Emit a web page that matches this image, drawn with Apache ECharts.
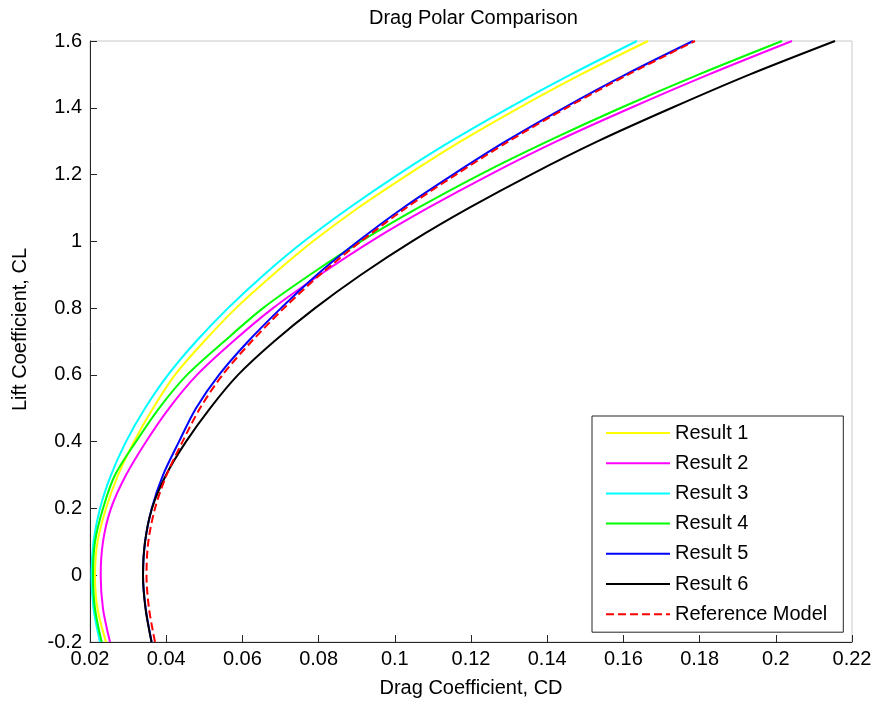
<!DOCTYPE html>
<html>
<head>
<meta charset="utf-8">
<script src="https://cdn.jsdelivr.net/npm/echarts@6/dist/echarts.min.js"></script>
<style>
html,body{margin:0;padding:0;background:#fff;}
#chart{width:876px;height:702px;}
</style>
</head>
<body>
<div id="chart"></div>
<script>
// Lift coefficient samples (y values)
const CL = [-0.2,-0.1,0,0.1,0.2,0.3,0.4,0.5,0.6,0.7,0.8,0.9,1.0,1.1,1.2,1.3,1.4,1.5,1.6];
// Drag coefficient read for each CL sample
const result1 = [0.0242,0.02197,0.02131,0.02197,0.0242,0.02735,0.03155,0.03654,0.04231,0.04992,0.05832,0.06803,0.07853,0.09034,0.10347,0.11738,0.1326,0.14887,0.16646];
const result2 = [0.02525,0.02341,0.02281,0.02341,0.02551,0.02945,0.0347,0.04074,0.04808,0.05753,0.06803,0.08037,0.09375,0.10871,0.12499,0.14257,0.162,0.18247,0.20425];
const result3 = [0.02262,0.02092,0.02039,0.02092,0.02262,0.02551,0.02945,0.03444,0.04047,0.04782,0.05622,0.06567,0.07617,0.08798,0.10084,0.11475,0.12997,0.14625,0.16357];
const result4 = [0.02307,0.02131,0.02079,0.02131,0.02341,0.02656,0.03207,0.03811,0.04546,0.05517,0.06541,0.07774,0.09113,0.10609,0.12236,0.14021,0.15937,0.17984,0.20163];
const result5 = [0.03619,0.03462,0.03391,0.03444,0.03619,0.03916,0.04336,0.04782,0.05386,0.06147,0.07013,0.07958,0.09034,0.10215,0.11528,0.12919,0.14441,0.16068,0.17827];
const result6 = [0.03614,0.03457,0.03391,0.03444,0.03627,0.03995,0.0452,0.0515,0.05885,0.06829,0.07906,0.09113,0.10452,0.11948,0.13575,0.15333,0.17276,0.19323,0.21554];
const reference = [0.03706,0.03549,0.03483,0.0353,0.03706,0.04008,0.04428,0.04887,0.05478,0.06239,0.07092,0.08037,0.09113,0.10294,0.11606,0.12997,0.14507,0.16134,0.17879];

const seriesNames = ['Result 1','Result 2','Result 3','Result 4','Result 5','Result 6','Reference Model'];
const seriesCD = [result1,result2,result3,result4,result5,result6,reference];
const seriesColors = ['#ffff00','#ff00ff','#00ffff','#00ff00','#0000ff','#000000','#ff0000'];
const seriesDash = ['solid','solid','solid','solid','solid','solid',[8,4]];

const titleText = 'Drag Polar Comparison';
const xName = 'Drag Coefficient, CD';
const yName = 'Lift Coefficient, CL';

const FONT = 'Liberation Sans, Arial, Helvetica, sans-serif';
const AXIS_COLOR = '#262626';

const chart = echarts.init(document.getElementById('chart'), null, {renderer:'canvas'});

const series = seriesNames.map((name, i) => ({
  name: name,
  type: 'line',
  data: CL.map((cl, j) => [seriesCD[i][j], cl]),
  symbol: 'none',
  smooth: 0.3,
  lineStyle: {color: seriesColors[i], width: 2, type: seriesDash[i]},
  itemStyle: {color: seriesColors[i]},
  emphasis: {disabled: true},
  z: 2 + i
}));

chart.setOption({
  animation: false,
  backgroundColor: '#ffffff',
  title: {
    text: titleText,
    left: 364,
    top: 3,
    textStyle: {fontFamily: FONT, fontSize: 20, fontWeight: 'normal', color: '#000'}
  },
  grid: {
    left: 90, right: 24, top: 41, bottom: 60,
    containLabel: false,
    outerBoundsMode: 'none',
    show: true,
    borderColor: '#c8c8c8',
    borderWidth: 1,
    backgroundColor: '#fff'
  },
  legend: {
    orient: 'vertical',
    left: 592,
    top: 416,
    padding: [7, 16, 8, 13],
    itemWidth: 64,
    itemHeight: 14,
    itemGap: 10.2,
    backgroundColor: '#fff',
    borderColor: AXIS_COLOR,
    borderWidth: 1,
    borderRadius: 0,
    itemStyle: {opacity: 0},
    textStyle: {fontFamily: FONT, fontSize: 20, color: '#000', lineHeight: 20},
    data: seriesNames
  },
  xAxis: {
    type: 'value',
    min: 0.02, max: 0.22, interval: 0.02,
    name: xName,
    nameLocation: 'middle',
    nameGap: 36,
    nameTextStyle: {fontFamily: FONT, fontSize: 20, color: '#000'},
    axisLine: {show: true, onZero: false, lineStyle: {color: AXIS_COLOR, width: 1}},
    axisTick: {show: true, inside: true, length: 7, lineStyle: {color: AXIS_COLOR}},
    axisLabel: {
      fontFamily: FONT, fontSize: 20, color: '#000', margin: 7,
      showMinLabel: true, showMaxLabel: true,
      formatter: v => String(+v.toFixed(2))
    },
    splitLine: {show: false}
  },
  yAxis: {
    type: 'value',
    min: -0.2, max: 1.6, interval: 0.2,
    name: yName,
    nameLocation: 'middle',
    nameRotate: 90,
    nameGap: 60,
    nameTextStyle: {fontFamily: FONT, fontSize: 20, color: '#000', padding: [0, 0, 0, 24]},
    axisLine: {show: true, onZero: false, lineStyle: {color: AXIS_COLOR, width: 1}},
    axisTick: {show: true, inside: true, length: 7, lineStyle: {color: AXIS_COLOR}},
    axisLabel: {
      fontFamily: FONT, fontSize: 20, color: '#000', margin: 8,
      showMinLabel: true, showMaxLabel: true,
      formatter: v => String(+v.toFixed(1))
    },
    splitLine: {show: false}
  },
  tooltip: {show: false},
  series: series
});
</script>
</body>
</html>
